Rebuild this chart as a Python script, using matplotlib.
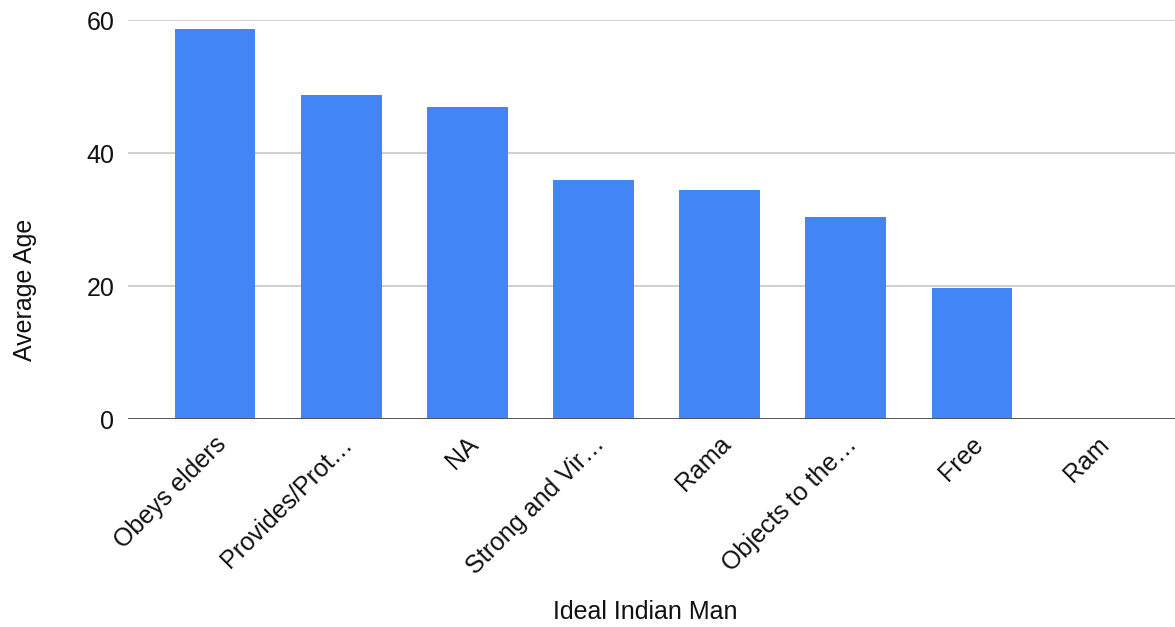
import matplotlib.pyplot as plt
from matplotlib.transforms import ScaledTranslation

plt.rcParams['font.family'] = ['Liberation Sans', 'DejaVu Sans']

categories = ['Obeys elders', 'Provides/Prot\u2026', 'NA', 'Strong and Vir\u2026',
              'Rama', 'Objects to the\u2026', 'Free', 'Ram']
avg_age = [58.7, 48.7, 46.9, 36.0, 34.4, 30.4, 19.8, 0]
yticks = [0, 20, 40, 60]

fig = plt.figure(figsize=(11.75, 6.27), dpi=100)
ax = fig.add_axes([0.109, 0.331, 0.891, 0.637])

x = list(range(len(categories)))
ax.bar(x, avg_age, width=0.64, color='#4285f4', zorder=2)

ax.set_xlim(-0.69, 7.61)
ax.set_ylim(0, 60)
ax.set_yticks(yticks)
ax.set_yticklabels([str(v) for v in yticks])
ax.grid(axis='y', color='#cccccc', linewidth=1.3, zorder=0)
ax.axhline(0, color='#555555', linewidth=1.4, zorder=3)

for s in ax.spines.values():
    s.set_visible(False)

ax.tick_params(axis='y', length=0, pad=10, labelsize=18, labelcolor='#111111')
ax.tick_params(axis='x', length=0, pad=13)
ax.set_xticks(x)
ax.set_xticklabels(categories, rotation=45, ha='right', va='center',
                   rotation_mode='anchor', fontsize=18, color='#111111')
# nudge the slanted labels a little right and down
shift = ScaledTranslation(7 / 100, -3 / 100, fig.dpi_scale_trans)
for lbl in ax.get_xticklabels():
    lbl.set_transform(lbl.get_transform() + shift)

fig.text(0.549, 0.024, 'Ideal Indian Man', ha='center', va='center', fontsize=18, color='#111111')
fig.text(0.021, 0.537, 'Average Age', ha='center', va='center', rotation=90,
         fontsize=18, color='#111111')

fig.savefig('out.png', dpi=100, facecolor='white')
